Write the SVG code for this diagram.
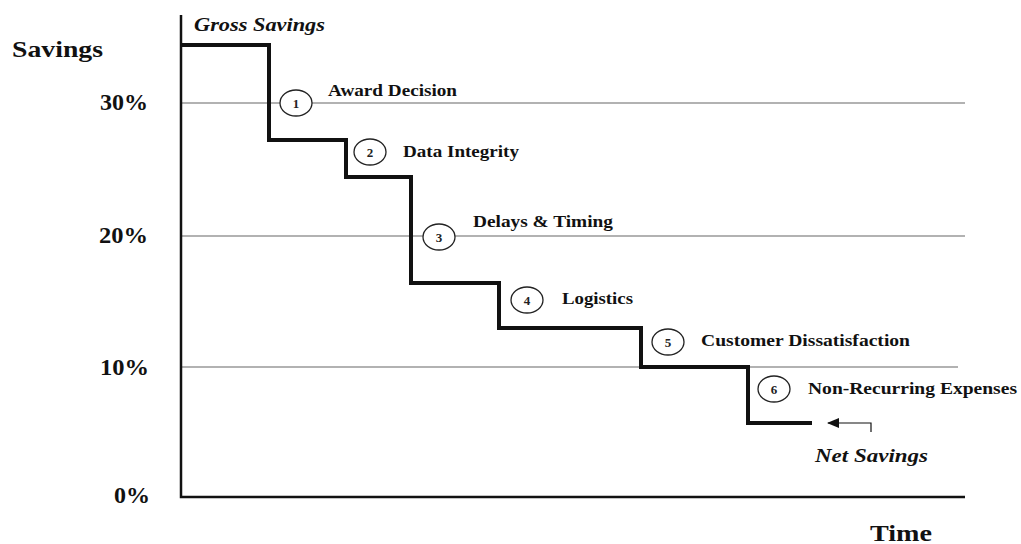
<svg xmlns="http://www.w3.org/2000/svg" width="1021" height="544" viewBox="0 0 1021 544">
<style>
.lbl{font-family:"Liberation Serif","Times New Roman",serif;font-weight:bold;fill:#111}
.ax{font-size:23px}
.st{font-size:17px}
.it{font-style:italic;font-size:19px}
.grid{stroke:#666;stroke-width:1.2;fill:none}
.circ{fill:#fff;stroke:#222;stroke-width:1.3}
.num{font-family:"Liberation Serif","Times New Roman",serif;font-weight:bold;font-size:13px;fill:#222;text-anchor:middle}
</style>
<defs>
<marker id="ah" viewBox="0 0 12 10" refX="11" refY="5" markerWidth="13" markerHeight="10" markerUnits="userSpaceOnUse" orient="auto"><path d="M0,0 L12,5 L0,10 z" fill="#111"/></marker>
</defs>
<rect width="1021" height="544" fill="#fff"/>
<g id="axes">
<line class="grid" x1="181" y1="103" x2="965" y2="103"/>
<line class="grid" x1="181" y1="236" x2="965" y2="236"/>
<line class="grid" x1="181" y1="367" x2="958" y2="367"/>
<path d="M181,15 V497 H965" fill="none" stroke="#111" stroke-width="2.5"/>
<text class="lbl ax" x="12" y="57" textLength="91" lengthAdjust="spacingAndGlyphs">Savings</text>
<text class="lbl ax" x="100" y="110" textLength="48" lengthAdjust="spacingAndGlyphs">30%</text>
<text class="lbl ax" x="99" y="243" textLength="49" lengthAdjust="spacingAndGlyphs">20%</text>
<text class="lbl ax" x="100" y="375" textLength="49" lengthAdjust="spacingAndGlyphs">10%</text>
<text class="lbl ax" x="114" y="503" textLength="36" lengthAdjust="spacingAndGlyphs">0%</text>
<text class="lbl ax" x="870" y="541" font-size="25" textLength="62" lengthAdjust="spacingAndGlyphs">Time</text>
</g>
<g id="connectors">
<path d="M181,45 H269 V140 H346 V177 H411 V283 H499 V328 H641 V367 H748 V423 H812" fill="none" stroke="#111" stroke-width="4"/>
<path d="M871,432 V423 H828" fill="none" stroke="#111" stroke-width="1.2" marker-end="url(#ah)"/>
</g>
<g id="gross"><text class="lbl it" x="194" y="31" textLength="131" lengthAdjust="spacingAndGlyphs">Gross Savings</text></g>
<g id="net"><text class="lbl it" x="815" y="462" textLength="113" lengthAdjust="spacingAndGlyphs">Net Savings</text></g>
<g id="n1"><ellipse class="circ" cx="296" cy="103" rx="16" ry="13"/><text class="num" x="296" y="107.5">1</text><text class="lbl st" x="328" y="96" textLength="129" lengthAdjust="spacingAndGlyphs">Award Decision</text></g>
<g id="n2"><ellipse class="circ" cx="370" cy="152" rx="16" ry="13"/><text class="num" x="370" y="156.5">2</text><text class="lbl st" x="403" y="157" textLength="116" lengthAdjust="spacingAndGlyphs">Data Integrity</text></g>
<g id="n3"><ellipse class="circ" cx="439" cy="237" rx="16" ry="13"/><text class="num" x="439" y="241.5">3</text><text class="lbl st" x="473" y="227" textLength="140" lengthAdjust="spacingAndGlyphs">Delays &amp; Timing</text></g>
<g id="n4"><ellipse class="circ" cx="527" cy="300" rx="16" ry="13"/><text class="num" x="527" y="304.5">4</text><text class="lbl st" x="562" y="304" textLength="71" lengthAdjust="spacingAndGlyphs">Logistics</text></g>
<g id="n5"><ellipse class="circ" cx="668" cy="342" rx="16" ry="13"/><text class="num" x="668" y="346.5">5</text><text class="lbl st" x="701" y="346" textLength="209" lengthAdjust="spacingAndGlyphs">Customer Dissatisfaction</text></g>
<g id="n6"><ellipse class="circ" cx="774" cy="389" rx="16" ry="13"/><text class="num" x="774" y="393.5">6</text><text class="lbl st" x="808" y="394" textLength="209" lengthAdjust="spacingAndGlyphs">Non-Recurring Expenses</text></g>
</svg>
